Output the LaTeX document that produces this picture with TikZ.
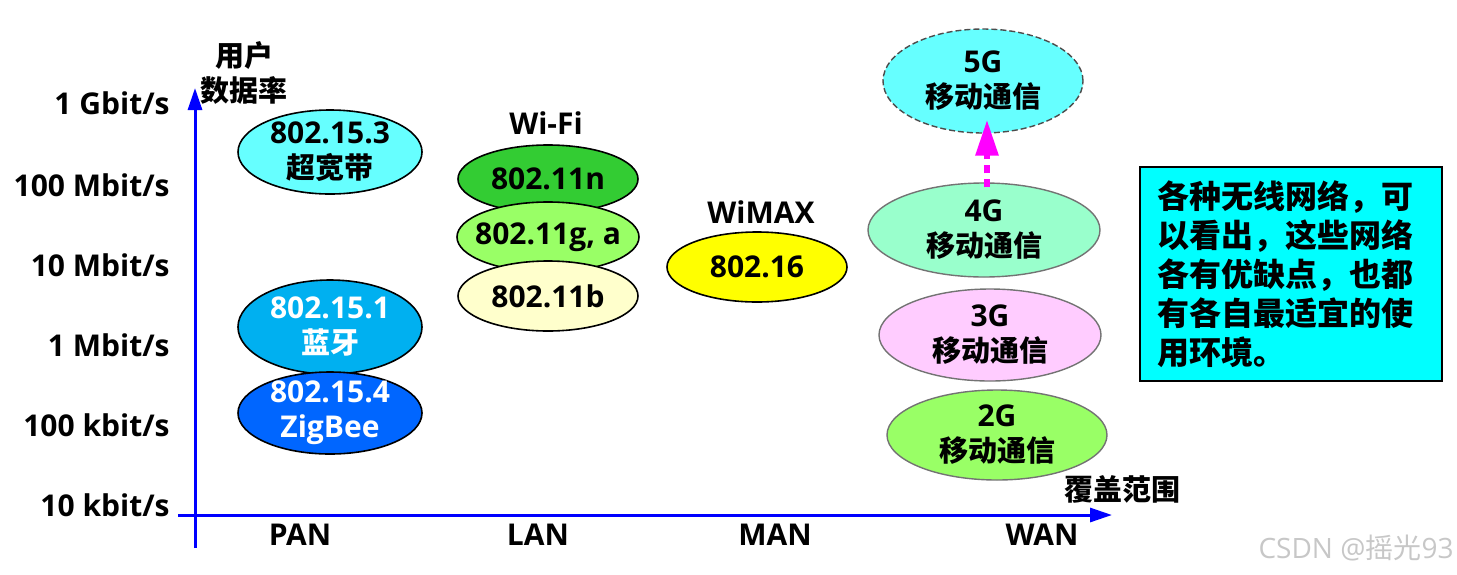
\documentclass[tikz,border=0pt]{standalone}
\usepackage{fontspec}
\setmainfont{Open Sans}
\newfontfamily\cjk{Noto Sans CJK SC}
\usetikzlibrary{shapes.geometric,arrows.meta}
\definecolor{uwbcol}{HTML}{66FFFF}
\definecolor{btcol}{HTML}{00B0F0}
\definecolor{zbcol}{HTML}{0066FF}
\definecolor{ncol}{HTML}{33CC33}
\definecolor{gcol}{HTML}{99FF66}
\definecolor{bcol}{HTML}{FFFFCC}
\definecolor{maxcol}{HTML}{FFFF00}
\definecolor{fourcol}{HTML}{99FFCC}
\definecolor{threecol}{HTML}{FFCCFF}
\definecolor{notecol}{HTML}{00FFFF}
\definecolor{upcol}{HTML}{FF00FF}
\definecolor{axcol}{HTML}{0000FF}
\newcommand{\zh}[1]{{\cjk\fontsize{14.5}{17.5}\selectfont #1}}
\tikzset{
	net/.style={ellipse,draw=black,line width=0.8pt,inner sep=0pt},
	mob/.style={net,draw=black!55,line width=0.7pt},
	lbl/.style={font=\bfseries\fontsize{15}{17.5}\selectfont,align=center,inner sep=0pt},
	axis/.style={axcol,line width=1.5pt,-{Triangle[length=11pt,width=7pt]}},
}
\begin{document}
\begin{tikzpicture}[x=0.5pt,y=-0.5pt]
	\useasboundingbox (0,0) rectangle (1457,574);
	% axes
	\coordinate (ybot) at (195,548);
	\coordinate (ytop) at (195,88);
	\coordinate (xleft) at (178,515);
	\coordinate (xright) at (1112,515);
	\draw[axis] (ybot) -- (ytop);
	\draw[axis] (xleft) -- (xright);
	\foreach \y/\t [count=\i] in {103/1 G,185/100 M,265/10 M,345/1 M,425/100 k,505/10 k}
		\node[lbl,anchor=east] (rate\i) at (170,\y) {\t bit/s};
	\node[lbl] (yname) at (244,73) {\zh{用户}\\\zh{数据率}};
	\node[lbl] (xname) at (1122,489) {\zh{覆盖范围}};
	\node[lbl] (pan) at (300,535) {PAN};
	\node[lbl] (lan) at (538,535) {LAN};
	\node[lbl] (man) at (775,535) {MAN};
	\node[lbl] (wan) at (1042,535) {WAN};
	% PAN
	\node[net,fill=uwbcol,minimum width=92pt,minimum height=42pt] (uwb) at (330,152) {};
	\node[lbl] (uwbtxt) at (uwb) {802.15.3\\\zh{超宽带}};
	\node[net,fill=btcol,minimum width=92pt,minimum height=47pt] (bt) at (330,327) {};
	\node[lbl,text=white] (bttxt) at (bt) {802.15.1\\\zh{蓝牙}};
	\node[net,fill=zbcol,minimum width=92pt,minimum height=41pt] (zb) at (330,413) {};
	\node[lbl,text=white] (zbtxt) at (zb) {802.15.4\\ZigBee};
	% LAN
	\node[lbl] (wifi) at (546,123) {Wi-Fi};
	\node[net,fill=ncol,minimum width=90pt,minimum height=34pt] (wn) at (548,179) {};
	\node[lbl] (wntxt) at (wn) {802.11n};
	\node[net,fill=gcol,minimum width=91pt,minimum height=35pt] (wg) at (548,237) {};
	\node[lbl] (wgtxt) at (wg) {802.11g, a};
	\node[net,fill=bcol,minimum width=90pt,minimum height=35pt] (wb) at (548,296) {};
	\node[lbl] (wbtxt) at (wb) {802.11b};
	% MAN
	\node[lbl] (wimax) at (761,212) {WiMAX};
	\node[net,fill=maxcol,minimum width=90pt,minimum height=35pt] (wmax) at (757,267) {};
	\node[lbl] (wmaxtxt) at (wmax) {802.16};
	% WAN
	\node[mob,fill=uwbcol,draw=black!70,dash pattern=on 3pt off 1.5pt,minimum width=100pt,minimum height=52pt] (g5) at (983,81) {};
	\node[lbl] (g5txt) at (g5) {5G\\\zh{移动通信}};
	\node[mob,fill=fourcol,minimum width=116pt,minimum height=47pt] (g4) at (984,230) {};
	\node[lbl] (g4txt) at (g4) {4G\\\zh{移动通信}};
	\node[mob,fill=threecol,minimum width=111pt,minimum height=46pt] (g3) at (990,335) {};
	\node[lbl] (g3txt) at (g3) {3G\\\zh{移动通信}};
	\node[mob,fill=gcol,minimum width=110pt,minimum height=45pt] (g2) at (997,435) {};
	\node[lbl] (g2txt) at (g2) {2G\\\zh{移动通信}};
	\draw[upcol,line width=3pt,dash pattern=on 4pt off 3pt,shorten <=-2.5pt,shorten >=-7pt,
		-{Triangle[length=18pt,width=11pt]}] ([xshift=1.5pt]g4.north) -- ([xshift=2pt]g5.south);
	% note
	\node[draw=black,line width=1pt,fill=notecol,text width=133pt,inner xsep=9pt,inner ysep=0pt,
		minimum height=107pt,align=left,font=\cjk\bfseries\fontsize{16}{19.5}\selectfont] (note) at (1290.5,274)
		{各种无线网络，可\\以看出，这些网络\\各有优缺点，也都\\有各自最适宜的使\\用环境。};
	\node[text=black!22,font=\fontsize{14}{14}\selectfont,inner sep=0pt] (mark) at (1356,548) {CSDN @{\cjk 摇光}93};
\end{tikzpicture}
\end{document}
